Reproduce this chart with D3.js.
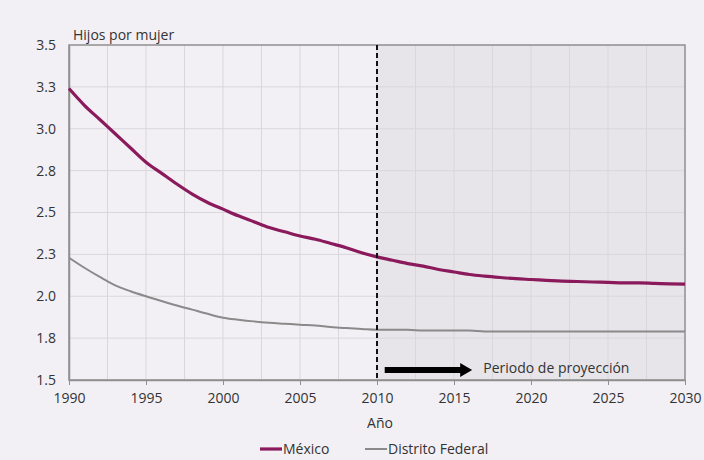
<!DOCTYPE html>
<html>
<head>
<meta charset="utf-8">
<script src="https://cdn.jsdelivr.net/npm/d3@7"></script>
<style>
  body { margin: 0; background: #f2f0f5; }
  svg { display: block; font-family: "Open Sans", sans-serif; }
</style>
</head>
<body>
<svg></svg>
<script>
var years = d3.range(1990, 2031);
var mexico = [3.24, 3.14, 3.055, 2.97, 2.885, 2.80, 2.735, 2.67, 2.61, 2.56,
  2.52, 2.48, 2.445, 2.41, 2.385, 2.36, 2.34, 2.315, 2.29, 2.26,
  2.235, 2.215, 2.195, 2.18, 2.16, 2.145, 2.13, 2.12, 2.112, 2.105,
  2.10, 2.095, 2.09, 2.088, 2.085, 2.083, 2.08, 2.08, 2.077, 2.074, 2.072];
var distrito = [2.23, 2.17, 2.115, 2.065, 2.03, 2.00, 1.972, 1.945, 1.92, 1.895,
  1.872, 1.86, 1.85, 1.842, 1.836, 1.83, 1.825, 1.816, 1.81, 1.805,
  1.80, 1.80, 1.80, 1.795, 1.795, 1.795, 1.795, 1.79, 1.79, 1.79,
  1.79, 1.79, 1.79, 1.79, 1.79, 1.79, 1.79, 1.79, 1.79, 1.79, 1.79];
var yTicks = [1.5, 1.75, 2.0, 2.25, 2.5, 2.75, 3.0, 3.25, 3.5];
var xTicks = [1990, 1995, 2000, 2005, 2010, 2015, 2020, 2025, 2030];
var series = [
  {name: "México", values: mexico, color: "#8a1a5b", width: 3.2},
  {name: "Distrito Federal", values: distrito, color: "#8a8a8a", width: 2}
];

var svgWidth = 704, svgHeight = 460;
var margin = {top: 45, right: 19, bottom: 80, left: 69};
var width = svgWidth - margin.left - margin.right;
var height = svgHeight - margin.top - margin.bottom;

var svg = d3.select("svg").attr("width", svgWidth).attr("height", svgHeight);
var g = svg.append("g").attr("transform", translate(margin.left, margin.top));

var x = d3.scaleLinear().domain([1990, 2030]).range([0, width]);
var y = d3.scaleLinear().domain([1.5, 3.5]).range([height, 0]);

// shaded projection area
g.append("rect")
  .attr("x", x(2010)).attr("y", 0)
  .attr("width", x(2030) - x(2010)).attr("height", height)
  .attr("fill", "#e7e5e9");

// grid
g.selectAll(".vgrid").data(d3.range(1992.5, 2030, 2.5)).enter().append("line")
  .attr("x1", function(d) { return x(d); }).attr("x2", function(d) { return x(d); })
  .attr("y1", 0).attr("y2", height)
  .attr("stroke", "#d9d7dc").attr("stroke-width", 1);
g.selectAll(".hgrid").data(yTicks.slice(1, -1)).enter().append("line")
  .attr("x1", 0).attr("x2", width)
  .attr("y1", function(d) { return y(d); }).attr("y2", function(d) { return y(d); })
  .attr("stroke", "#d9d7dc").attr("stroke-width", 1);

// frame
g.append("rect").attr("width", width).attr("height", height)
  .attr("fill", "none").attr("stroke", "#8f8f8f").attr("stroke-width", 1.5);

// axes
var xAxis = g.append("g").attr("transform", translate(0, height))
  .call(d3.axisBottom(x).tickValues(xTicks).tickFormat(d3.format("d")).tickSizeInner(5).tickSizeOuter(0).tickPadding(8));
var yAxis = g.append("g")
  .call(d3.axisLeft(y).tickValues(yTicks).tickFormat(function(d) { return (Math.round(d * 10) / 10).toFixed(1); }).tickSize(0).tickPadding(13));
[xAxis, yAxis].forEach(function(a) {
  a.select(".domain").attr("stroke", "#8f8f8f").attr("stroke-width", 1.5);
  a.selectAll(".tick line").attr("stroke", "#8f8f8f");
  a.selectAll("text").attr("fill", "#333").style("font-size", "14px").style("font-family", "Open Sans");
});

// lines
var line = d3.line()
  .curve(d3.curveMonotoneX)
  .x(function(d, i) { return x(years[i]); })
  .y(function(d) { return y(d); });
series.slice().reverse().forEach(function(s) {
  g.append("path").datum(s.values)
    .attr("d", line).attr("fill", "none")
    .attr("stroke", s.color).attr("stroke-width", s.width)
    .attr("stroke-linejoin", "round");
});

// 2010 dashed line
g.append("line")
  .attr("x1", x(2010)).attr("x2", x(2010)).attr("y1", 0).attr("y2", height)
  .attr("stroke", "#111").attr("stroke-width", 2).attr("stroke-dasharray", "5,3");

// projection arrow
var ay = y(1.56);
g.append("line")
  .attr("x1", x(2010.5)).attr("x2", x(2015.5)).attr("y1", ay).attr("y2", ay)
  .attr("stroke", "#000").attr("stroke-width", 6);
g.append("path")
  .attr("d", "M" + x(2015.4) + "," + (ay - 7) + "L" + (x(2015.4) + 12) + "," + ay + "L" + x(2015.4) + "," + (ay + 7) + "Z")
  .attr("fill", "#000");
g.append("text")
  .attr("x", x(2016.9)).attr("y", ay + 3)
  .style("font-size", "14px").attr("fill", "#333")
  .text("Periodo de proyección");

// titles
svg.append("text").attr("x", 73).attr("y", 40)
  .style("font-size", "14px").attr("fill", "#333").text("Hijos por mujer");
svg.append("text").attr("x", x(2010) + margin.left + 3).attr("y", 428)
  .attr("text-anchor", "middle")
  .style("font-size", "14px").attr("fill", "#333").text("Año");

// legend
var legend = svg.append("g").attr("transform", translate(260, 449));
var offsets = [0, 105];
series.forEach(function(s, i) {
  var lg = legend.append("g").attr("transform", translate(offsets[i], 0));
  lg.append("line").attr("x1", 0).attr("x2", 22).attr("y1", 0).attr("y2", 0)
    .attr("stroke", s.color).attr("stroke-width", s.width);
  lg.append("text").attr("x", 23).attr("y", 5)
    .style("font-size", "14px").attr("fill", "#333").text(s.name);
});

function translate(a, b) {
  return "translate(" + a + "," + b + ")";
}
</script>
</body>
</html>
